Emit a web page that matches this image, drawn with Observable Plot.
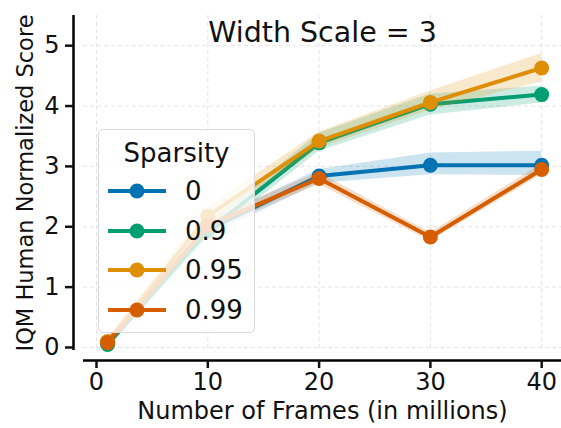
<!DOCTYPE html>
<html>
<head>
<meta charset="utf-8">
<script src="https://cdn.jsdelivr.net/npm/d3@7"></script>
<script src="https://cdn.jsdelivr.net/npm/@observablehq/plot@0.6"></script>
<style>
  html, body { margin: 0; padding: 0; background: white; }
  #wrap { position: relative; width: 561px; height: 428px; font-family: "DejaVu Sans", sans-serif; }
  #legend { position: absolute; left: 98px; top: 129px; width: 157px; height: 204px; box-sizing: border-box;
            border: 1px solid #d9d9d9; border-radius: 5px; background: rgba(255,255,255,0.8); }
  #legend .title { position: absolute; top: 5px; left: 0; width: 100%; text-align: center; font-size: 26px; line-height: 36px; color: #111; }
  #legend .row { position: absolute; left: 0; width: 100%; height: 36px; }
  #legend .row svg { position: absolute; left: 8px; top: 8px; }
  #legend .row span { position: absolute; left: 86px; top: 0; font-size: 26px; line-height: 36px; color: #111; }
</style>
</head>
<body>
<div id="wrap"></div>
<script>
// ---- data ----
const frames = [1, 10, 20, 30, 40];
const sparsityLabels = ["0", "0.9", "0.95", "0.99"];
const seriesColors = ["#0173b2", "#029e73", "#de8f05", "#d55e00"];

const score_0    = [0.08, 1.95, 2.84, 3.02, 3.02];
const lo_0       = [0.03, 1.84, 2.72, 2.86, 2.85];
const hi_0       = [0.13, 2.06, 2.95, 3.22, 3.25];

const score_09   = [0.05, 1.93, 3.39, 4.03, 4.19];
const lo_09      = [0.00, 1.80, 3.25, 3.85, 4.05];
const hi_09      = [0.10, 2.06, 3.55, 4.20, 4.33];

const score_095  = [0.10, 2.18, 3.42, 4.06, 4.63];
const lo_095     = [0.04, 2.04, 3.30, 3.93, 4.40];
const hi_095     = [0.16, 2.32, 3.57, 4.25, 4.87];

const score_099  = [0.08, 2.02, 2.80, 1.83, 2.95];
const lo_099     = [0.03, 1.92, 2.70, 1.76, 2.86];
const hi_099     = [0.13, 2.12, 2.90, 1.90, 3.04];

const xTicks = [0, 10, 20, 30, 40];
const yTicks = [0, 1, 2, 3, 4, 5];
const titleText = "Width Scale = 3";
const xLabel = "Number of Frames (in millions)";
const yLabel = "IQM Human Normalized Score";
const legendTitle = "Sparsity";

const scores = [score_0, score_09, score_095, score_099];
const los = [lo_0, lo_09, lo_095, lo_099];
const his = [hi_0, hi_09, hi_095, hi_099];

const series = scores.map((s, i) => frames.map((f, j) => ({
  frames: f, score: s[j], lo: los[i][j], hi: his[i][j], sparsity: sparsityLabels[i]
})));

const xDomain = [-1.168, 41.78];
const yDomain = [-0.05, 5.5];

const marks = [
  Plot.gridX(xTicks, {stroke: "#b0b0b0", strokeOpacity: 0.45, strokeDasharray: "4,3", strokeWidth: 0.8}),
  Plot.gridY(yTicks, {stroke: "#b0b0b0", strokeOpacity: 0.45, strokeDasharray: "4,3", strokeWidth: 0.8}),
  Plot.ruleX([xDomain[0]], {dx: -10, stroke: "black", strokeWidth: 2.5}),
  Plot.ruleY([yDomain[0]], {dy: 10, stroke: "black", strokeWidth: 2.5}),
  Plot.axisX({ticks: xTicks, tickFormat: d3.format("d"), dy: 10, tickSize: 8, tickPadding: 4, strokeWidth: 2.5, fontSize: 24, label: null}),
  Plot.axisY({ticks: yTicks, tickFormat: d3.format("d"), dx: -10, tickSize: 8, tickPadding: 6, strokeWidth: 2.5, fontSize: 24, label: null}),
];
series.forEach((rows, i) => {
  const c = seriesColors[i];
  marks.push(Plot.areaY(rows, {x: "frames", y1: "lo", y2: "hi", fill: c, fillOpacity: 0.2}));
  marks.push(Plot.line(rows, {x: "frames", y: "score", stroke: c, strokeWidth: 4}));
  marks.push(Plot.dot(rows, {x: "frames", y: "score", fill: c, r: 7.5}));
});
marks.push(Plot.text([titleText], {frameAnchor: "top", text: d => d, dy: 17, fontSize: 28.5, lineAnchor: "middle", textAnchor: "middle", fill: "#111"}));
marks.push(Plot.text([xLabel], {frameAnchor: "bottom", text: d => d, dy: 61, fontSize: 24, lineAnchor: "middle", textAnchor: "middle", fill: "#111"}));
marks.push(Plot.text([yLabel], {frameAnchor: "left", text: d => d, dx: -58, rotate: -90, fontSize: 22.5, lineAnchor: "middle", textAnchor: "middle", fill: "#111"}));

const chart = Plot.plot({
  width: 561,
  height: 428,
  marginLeft: 83,
  marginRight: 0,
  marginTop: 15,
  marginBottom: 78,
  style: {fontFamily: "DejaVu Sans", fontSize: "24px", color: "#111", background: "white", overflow: "visible"},
  x: {domain: xDomain, axis: null},
  y: {domain: yDomain, axis: null},
  marks
});

const wrap = document.getElementById("wrap");
wrap.appendChild(chart);

// legend overlay
const legend = document.createElement("div");
legend.id = "legend";
const t = document.createElement("div");
t.className = "title";
t.textContent = legendTitle;
legend.appendChild(t);
sparsityLabels.forEach((lab, i) => {
  const row = document.createElement("div");
  row.className = "row";
  row.style.top = (43 + i * 39.5) + "px";
  row.innerHTML = `<svg width="60" height="20"><line x1="1" x2="59" y1="10" y2="10" stroke="${seriesColors[i]}" stroke-width="4"/><circle cx="30" cy="10" r="7.5" fill="${seriesColors[i]}"/></svg><span>${lab}</span>`;
  legend.appendChild(row);
});
wrap.appendChild(legend);
</script>
</body>
</html>
